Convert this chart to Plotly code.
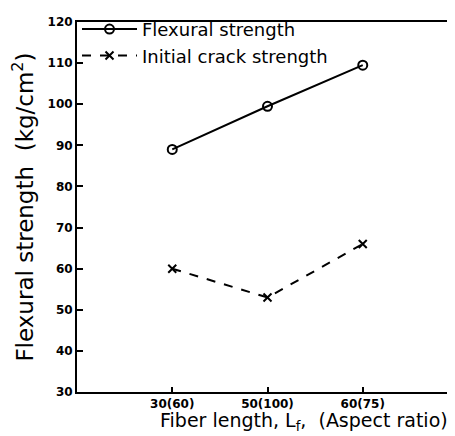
import plotly.graph_objects as go

categories = ["30(60)", "50(100)", "60(75)"]
x_pos = [1, 2, 3]
flexural = [89, 99.5, 109.5]
initial_crack = [60, 53, 66]
y_ticks = [30, 40, 50, 60, 70, 80, 90, 100, 110, 120]

fig = go.Figure()
fig.add_trace(go.Scatter(
    x=x_pos, y=flexural, mode="lines+markers", name="Flexural strength",
    line=dict(color="black", width=2),
    marker=dict(symbol="circle-open", size=9, color="black", line=dict(width=2)),
))
fig.add_trace(go.Scatter(
    x=x_pos, y=initial_crack, mode="lines+markers", name="Initial crack strength",
    line=dict(color="black", width=2, dash="dash"),
    marker=dict(symbol="x-thin-open", size=8, color="black", line=dict(width=2)),
))

fig.update_layout(
    width=455, height=436,
    margin=dict(l=69, r=3, t=13, b=52),
    paper_bgcolor="white", plot_bgcolor="white",
    font=dict(family="DejaVu Sans", color="black"),
    showlegend=True,
    legend=dict(x=0.0, y=1.03, xanchor="left", yanchor="top",
                bgcolor="rgba(0,0,0,0)", font=dict(size=18),
                itemwidth=55, tracegroupgap=0),
    xaxis=dict(
        range=[0, 4], tickvals=x_pos, ticktext=categories,
        ticks="inside", ticklen=5, tickwidth=1.5, tickcolor="black",
        showline=True, linecolor="black", linewidth=2, mirror=True,
        showgrid=False, zeroline=False,
        tickfont=dict(size=12, family="DejaVu Sans", weight="bold"),
    ),
    yaxis=dict(
        range=[30, 120], tickvals=y_ticks,
        ticks="inside", ticklen=6, tickwidth=1.5, tickcolor="black",
        showline=True, linecolor="black", linewidth=2, mirror=True,
        showgrid=False, zeroline=False,
        tickfont=dict(size=12, family="DejaVu Sans", weight="bold"),
        title=dict(text="Flexural strength  (kg/cm<sup>2</sup>)",
                   font=dict(size=23), standoff=8),
    ),
    annotations=[dict(
        text="Fiber length, L<sub>f</sub>,  (Aspect ratio)",
        xref="paper", yref="paper", x=(297 - 69) / 383, y=-(399 - 384) / 371,
        xanchor="center", yanchor="top", showarrow=False,
        font=dict(size=19, family="DejaVu Sans", color="black"),
    )],
)

fig.write_html("out.html")
